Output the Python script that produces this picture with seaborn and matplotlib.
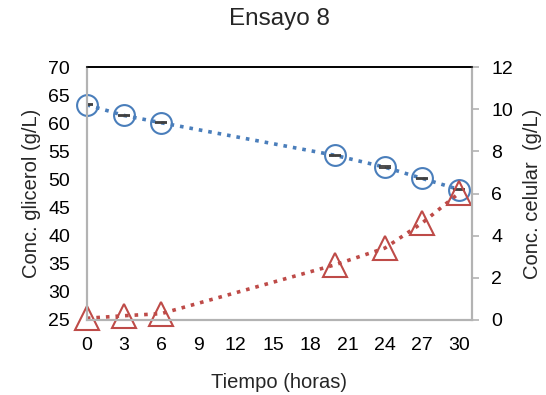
import numpy as np
import pandas as pd
import seaborn as sns
import matplotlib
matplotlib.use("Agg")
import matplotlib.pyplot as plt

# data
tiempo = [0, 3, 6, 20, 24, 27, 30]
glicerol = [63.3, 61.4, 60.1, 54.3, 52.2, 50.2, 48.2]
glicerol_err = [0.12, 0.12, 0.12, 0.12, 0.12, 0.12, 0.12]
celular = [0.08, 0.2, 0.3, 2.62, 3.41, 4.6, 6.03]

x_ticks = [0, 3, 6, 9, 12, 15, 18, 21, 24, 27, 30]

df = pd.DataFrame({"t": tiempo, "glicerol": glicerol, "celular": celular})

sns.set_theme(style="white")
plt.rcParams["font.family"] = ["Liberation Sans", "DejaVu Sans"]

blue = "#4a7ebb"
red = "#be4b48"
gray = "#b3b3b3"

fig, ax = plt.subplots(figsize=(5.46, 3.95), dpi=100)
fig.subplots_adjust(left=0.159, right=0.864, top=0.830, bottom=0.190)

ax2 = ax.twinx()

# glycerol (left axis)
sns.lineplot(data=df, x="t", y="glicerol", ax=ax, color=blue, linestyle=":",
             linewidth=2.6, marker="o", markersize=15, markerfacecolor="none",
             markeredgecolor=blue, markeredgewidth=1.5, zorder=3, clip_on=False)
ax.errorbar(tiempo, glicerol, yerr=glicerol_err, fmt="none", ecolor="#404040",
            elinewidth=1, capsize=4.5, capthick=1.3, zorder=4)

# cell concentration (right axis)
sns.lineplot(data=df, x="t", y="celular", ax=ax2, color=red, linestyle=":",
             linewidth=2.6, marker="^", markersize=17, markerfacecolor="none",
             markeredgecolor=red, markeredgewidth=1.5, clip_on=False)

ax.set_xlim(0, 31)
ax.set_ylim(25, 70)
ax.set_yticks(range(25, 71, 5))
ax.set_xticks(x_ticks)
ax2.set_ylim(0, 12)
ax2.set_yticks(range(0, 13, 2))

ax.set_xlabel("Tiempo (horas)", fontsize=14.5, labelpad=14)
ax.set_ylabel("Conc. glicerol (g/L)", fontsize=14.5, labelpad=5)
ax2.set_ylabel("Conc. celular  (g/L)", fontsize=14.5, labelpad=7)
ax.set_title("Ensayo 8", fontsize=17.5, pad=30)

for a in (ax, ax2):
    for side in ("left", "right", "bottom"):
        a.spines[side].set_color(gray)
        a.spines[side].set_linewidth(1.5)
    a.spines["top"].set_color("black")
    a.spines["top"].set_linewidth(1.2)
    a.tick_params(labelsize=14, colors="black")

ax.tick_params(axis="x", length=0, pad=12)
ax.tick_params(axis="y", length=0, pad=12)
ax2.tick_params(axis="y", length=5, width=1.2, color=gray, direction="out", pad=9)
ax.grid(False)
ax2.grid(False)

fig.savefig("out.png", dpi=100)
